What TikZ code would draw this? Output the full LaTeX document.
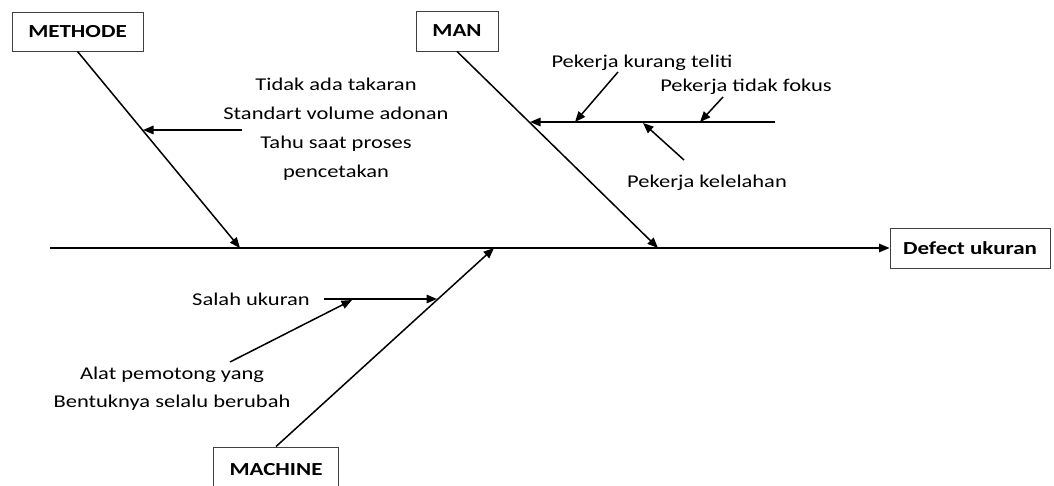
\documentclass[tikz,border=0pt]{standalone}
\usepackage{fontspec}
\setmainfont{Carlito}[FakeStretch=1.25]
\usetikzlibrary{arrows.meta}
\begin{document}
\begin{tikzpicture}[x=1pt,y=-1pt,
  box/.style={draw=black!75, line width=0.9pt, fill=white, inner sep=0pt,
    font=\fontsize{18.4}{21}\selectfont\bfseries},
  lbl/.style={font=\fontsize{18}{29}\selectfont, inner sep=0pt, align=center},
  arr/.style={line width=1.5pt, -{Triangle[length=10.5pt,width=8.5pt]}},
  bone/.style={line width=1.5pt}]
\useasboundingbox (0,0) rectangle (1054,486);
\clip (0,0) rectangle (1054,486);
% boxes
\node[box, minimum width=131pt, minimum height=39pt] (methode) at (77.5,31.5) {METHODE};
\node[box, minimum width=82pt, minimum height=40pt] (man) at (457,31) {MAN};
\node[box, minimum width=160pt, minimum height=40pt] (defect) at (970,248) {Defect ukuran};
\node[box, minimum width=125pt, minimum height=46pt] (machine) at (276,470) {MACHINE};
% spine
\coordinate (tail) at (50,248);
\draw[arr] (tail) -- (defect.west);
% main bones
\coordinate (mE) at (240,248);
\coordinate (manE) at (658,248);
\coordinate (macE) at (494,248);
\draw[arr] (methode.south) -- (mE);
\draw[arr] (man.south) -- (manE);
\draw[arr] (machine.north) -- (macE);
% methode cause
\node[lbl] (mtext) at (336,129) {Tidak ada takaran\\Standart volume adonan\\Tahu saat proses\\pencetakan};
\coordinate (ms) at (242,130);
\coordinate (me) at (143,130);
\draw[arr] (ms) -- (me);
% man causes
\coordinate (s1end) at (775,122);
\coordinate (s1tip) at (530,122);
\draw[arr] (s1end) -- (s1tip);
\node[lbl] (t1) at (642,63) {Pekerja kurang teliti};
\node[lbl] (t2) at (746,87) {Pekerja tidak fokus};
\node[lbl] (t3) at (707,183) {Pekerja kelelahan};
\coordinate (a1s) at (618,72);  \coordinate (a1e) at (575,122);
\coordinate (a2s) at (723,97);  \coordinate (a2e) at (700,122);
\coordinate (a3s) at (684,160); \coordinate (a3e) at (643,123);
\draw[arr] (a1s) -- (a1e);
\draw[arr] (a2s) -- (a2e);
\draw[arr] (a3s) -- (a3e);
% machine causes
\node[lbl] (salah) at (251,299) {Salah ukuran};
\coordinate (hs) at (324,299);
\coordinate (he) at (437,299);
\draw[arr] (hs) -- (he);
\node[lbl, font=\fontsize{18}{28}\selectfont] (alat) at (172,389) {Alat pemotong yang\\Bentuknya selalu berubah};
\coordinate (bs) at (230,362);
\coordinate (be) at (352,300);
\draw[arr] (bs) -- (be);
\end{tikzpicture}
\end{document}
